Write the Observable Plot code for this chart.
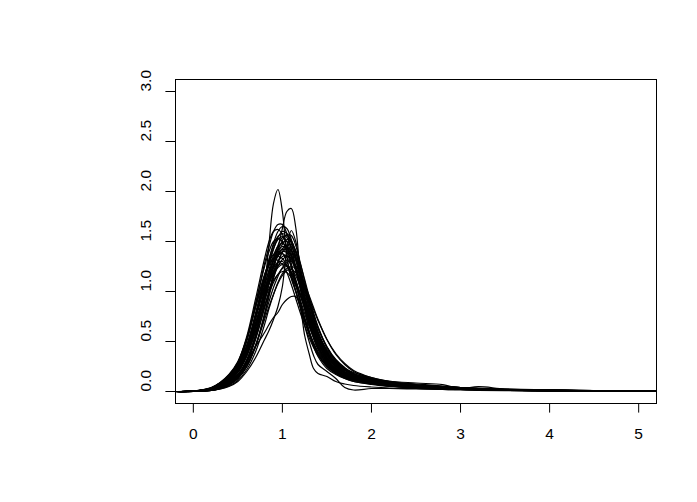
<!DOCTYPE html>
<html><head><meta charset="utf-8">
<script src="https://cdn.jsdelivr.net/npm/d3@7"></script>
<script src="https://cdn.jsdelivr.net/npm/@observablehq/plot@0.6"></script>
<style>body{margin:0;background:#fff}</style>
</head><body><div id="chart"></div>
<script>
// Shared x grid of the density curves
const xGrid = [-0.2, 0, 0.2, 0.3, 0.4, 0.5, 0.6, 0.7, 0.8, 0.85, 0.9, 0.95, 1.0, 1.05, 1.1, 1.15, 1.2, 1.25, 1.3, 1.35, 1.4, 1.5, 1.6, 1.7, 1.8, 2.0, 2.2, 2.5, 2.8, 3.0, 3.2, 3.5, 4.0, 4.5, 5.0, 5.3];

// Density curves (y values at xGrid)
const c01 = [0, .003, .022, .058, .116, .20, .38, .67, 1.00, 1.16, 1.30, 1.41, 1.45, 1.435, 1.36, 1.23, 1.07, .9, .74, .61, .49, .33, .23, .17, .14, .10, .07, .05, .036, .029, .023, .016, .01, .006, .004, .003];
const c02 = [0, .004, .03, .07, .14, .24, .45, .77, 1.13, 1.29, 1.43, 1.52, 1.55, 1.50, 1.38, 1.22, 1.04, .86, .69, .56, .45, .30, .21, .16, .12, .085, .06, .045, .03, .025, .02, .014, .009, .006, .004, .003];
const c03 = [0, .002, .016, .045, .09, .16, .30, .54, .84, 1.0, 1.14, 1.25, 1.32, 1.35, 1.33, 1.24, 1.10, .95, .80, .66, .54, .37, .26, .19, .15, .11, .08, .055, .04, .03, .025, .017, .011, .007, .005, .003];
const c04 = [0, .003, .03, .075, .15, .27, .52, .88, 1.28, 1.45, 1.60, 1.67, 1.67, 1.58, 1.43, 1.24, 1.03, .84, .67, .53, .42, .28, .20, .15, .12, .085, .06, .04, .03, .024, .019, .013, .008, .005, .003, .002];
const c05 = [0, .003, .025, .06, .12, .21, .37, .60, .86, .98, 1.09, 1.17, 1.23, 1.25, 1.23, 1.16, 1.05, .93, .81, .69, .58, .41, .30, .22, .17, .12, .09, .06, .045, .035, .028, .02, .012, .008, .005, .003];
const c06 = [0, .002, .02, .055, .11, .20, .38, .66, 1.00, 1.17, 1.32, 1.43, 1.49, 1.50, 1.45, 1.35, 1.21, 1.06, .91, .77, .64, .45, .32, .24, .18, .13, .095, .065, .05, .04, .03, .02, .012, .008, .005, .003];
const c07 = [0, .004, .035, .08, .15, .28, .52, .85, 1.16, 1.29, 1.37, 1.40, 1.38, 1.30, 1.17, 1.01, .85, .70, .57, .46, .37, .25, .18, .13, .10, .075, .055, .04, .03, .024, .018, .012, .008, .005, .003, .002];
const c08 = [0, .001, .012, .032, .07, .13, .25, .46, .75, .90, 1.04, 1.15, 1.24, 1.29, 1.30, 1.26, 1.17, 1.04, .90, .76, .63, .44, .31, .23, .17, .12, .085, .06, .045, .035, .027, .018, .011, .007, .004, .003];
const c09 = [0, .003, .024, .064, .13, .22, .42, .74, 1.10, 1.27, 1.42, 1.54, 1.60, 1.58, 1.48, 1.32, 1.13, .94, .77, .62, .50, .34, .24, .18, .14, .10, .07, .05, .035, .028, .022, .015, .009, .006, .004, .002];
const c10 = [0, .005, .04, .085, .15, .25, .42, .66, .92, 1.03, 1.11, 1.17, 1.20, 1.19, 1.14, 1.06, .96, .85, .74, .63, .54, .39, .29, .22, .17, .12, .09, .065, .05, .04, .03, .02, .013, .008, .005, .003];
const c11 = [0, .004, .03, .07, .14, .24, .44, .75, 1.06, 1.20, 1.31, 1.37, 1.38, 1.34, 1.25, 1.12, .97, .82, .68, .56, .45, .31, .22, .16, .13, .09, .065, .045, .033, .026, .02, .014, .009, .006, .004, .002];
const c12 = [0, .002, .018, .045, .09, .17, .32, .57, .90, 1.08, 1.25, 1.38, 1.47, 1.52, 1.50, 1.40, 1.24, 1.06, .88, .72, .58, .39, .27, .20, .15, .11, .08, .055, .04, .032, .025, .017, .01, .007, .004, .002];
const c13 = [0, .004, .035, .085, .16, .29, .55, .93, 1.33, 1.50, 1.60, 1.62, 1.57, 1.45, 1.28, 1.09, .90, .73, .59, .47, .38, .26, .19, .14, .11, .08, .055, .04, .03, .023, .018, .012, .008, .005, .003, .002];
const c14 = [0, .005, .03, .075, .13, .25, .50, .85, 1.17, 1.28, 1.33, 1.31, 1.27, 1.19, 1.07, .93, .79, .66, .54, .44, .36, .25, .18, .14, .11, .08, .06, .04, .03, .024, .019, .013, .008, .005, .003, .002];
const c15 = [0, .001, .012, .03, .065, .13, .25, .46, .77, .95, 1.13, 1.28, 1.40, 1.46, 1.47, 1.41, 1.28, 1.12, .95, .79, .65, .44, .31, .23, .17, .12, .085, .06, .045, .035, .027, .018, .011, .007, .004, .002];
const c16 = [0, .004, .03, .07, .14, .24, .43, .69, .97, 1.10, 1.20, 1.26, 1.28, 1.26, 1.20, 1.10, .98, .86, .74, .63, .53, .38, .29, .23, .19, .14, .105, .085, .068, .03, .048, .026, .015, .008, .005, .003];
const c17 = [0, .003, .025, .06, .12, .21, .39, .67, .99, 1.14, 1.27, 1.37, 1.42, 1.41, 1.35, 1.24, 1.09, .93, .78, .64, .52, .35, .25, .19, .15, .11, .08, .055, .04, .032, .025, .017, .01, .006, .004, .002];
const c18 = [0, .002, .02, .05, .10, .19, .36, .64, .99, 1.17, 1.33, 1.46, 1.54, 1.56, 1.51, 1.39, 1.21, 1.02, .84, .68, .55, .37, .26, .19, .15, .11, .075, .05, .038, .03, .023, .016, .01, .006, .004, .002];
const c19 = [0, .001, .01, .025, .055, .11, .22, .40, .67, .83, .97, 1.09, 1.18, 1.23, 1.25, 1.23, 1.16, 1.07, .96, .84, .72, .52, .37, .27, .2, .13, .09, .06, .045, .035, .028, .019, .012, .007, .004, .002];
const c20 = [0, .003, .026, .065, .13, .23, .42, .72, 1.06, 1.22, 1.36, 1.45, 1.48, 1.45, 1.36, 1.21, 1.04, .87, .71, .58, .47, .32, .22, .17, .13, .095, .068, .048, .035, .028, .022, .015, .01, .006, .004, .003];
const c21 = [0, .003, .024, .06, .12, .21, .38, .64, .94, 1.08, 1.20, 1.30, 1.35, 1.36, 1.31, 1.21, 1.07, .92, .77, .64, .52, .36, .26, .19, .15, .11, .08, .055, .04, .032, .025, .017, .011, .007, .004, .003];
const c22 = [0, .003, .028, .07, .14, .25, .46, .79, 1.15, 1.32, 1.46, 1.55, 1.58, 1.54, 1.42, 1.25, 1.06, .87, .70, .56, .45, .30, .21, .16, .12, .09, .063, .045, .033, .026, .02, .014, .009, .006, .004, .002];
const c23 = [0, .002, .015, .04, .08, .15, .29, .52, .84, 1.00, 1.16, 1.30, 1.39, 1.43, 1.41, 1.33, 1.19, 1.03, .87, .72, .59, .40, .28, .21, .16, .115, .08, .057, .042, .033, .026, .018, .011, .007, .004, .002];
const c24 = [0, .004, .033, .078, .15, .26, .46, .75, 1.03, 1.15, 1.24, 1.29, 1.30, 1.26, 1.18, 1.06, .92, .78, .65, .54, .44, .31, .22, .17, .13, .095, .068, .048, .035, .028, .021, .014, .009, .006, .004, .002];
const c25 = [0, .003, .025, .065, .13, .23, .43, .75, 1.13, 1.32, 1.48, 1.60, 1.65, 1.63, 1.52, 1.35, 1.14, .94, .76, .61, .49, .33, .23, .17, .13, .095, .067, .047, .034, .027, .021, .014, .009, .006, .004, .002];
const c26 = [0, .002, .016, .04, .08, .15, .27, .46, .72, .85, .97, 1.08, 1.16, 1.21, 1.22, 1.19, 1.12, 1.03, .93, .82, .71, .52, .38, .28, .21, .14, .10, .07, .05, .04, .03, .02, .013, .008, .005, .003];
const c27 = [0, .004, .035, .085, .165, .29, .53, .88, 1.25, 1.40, 1.50, 1.53, 1.50, 1.40, 1.25, 1.08, .90, .74, .60, .48, .39, .27, .19, .14, .11, .08, .057, .04, .03, .024, .019, .013, .008, .005, .003, .002];
const c28 = [0, .003, .025, .062, .12, .21, .39, .67, .98, 1.12, 1.25, 1.35, 1.40, 1.39, 1.33, 1.22, 1.08, .94, .80, .68, .57, .42, .31, .23, .18, .13, .10, .075, .055, .04, .035, .025, .016, .01, .006, .004];
const c29 = [0, .002, .02, .052, .105, .19, .35, .61, .94, 1.10, 1.25, 1.37, 1.43, 1.45, 1.41, 1.31, 1.16, .99, .83, .68, .55, .37, .26, .19, .15, .11, .077, .053, .04, .031, .024, .016, .01, .006, .004, .002];
const c30 = [0, .004, .032, .075, .14, .24, .42, .68, .96, 1.08, 1.18, 1.24, 1.27, 1.25, 1.19, 1.09, .97, .84, .71, .59, .49, .34, .25, .19, .15, .11, .08, .056, .04, .032, .025, .017, .011, .007, .004, .003];
const c31 = [0, .002, .016, .042, .085, .16, .31, .56, .90, 1.08, 1.26, 1.41, 1.51, 1.57, 1.56, 1.46, 1.29, 1.10, .91, .74, .60, .40, .28, .21, .16, .115, .08, .055, .04, .032, .025, .017, .01, .006, .004, .002];
const c32 = [0, .005, .038, .09, .17, .30, .53, .85, 1.15, 1.26, 1.33, 1.35, 1.33, 1.26, 1.14, 1.00, .86, .72, .60, .49, .40, .28, .20, .15, .12, .085, .062, .044, .032, .026, .02, .013, .008, .005, .003, .002];
const cA = [0, .002, .01, .03, .07, .14, .28, .56, 1.05, 1.48, 1.88, 2.02, 1.80, 1.36, 1.13, 1.00, .85, .66, .50, .36, .27, .20, .13, .04, .015, .03, .03, .025, .02, .015, .012, .008, .005, .003, .002, .001];
const cB = [0, .002, .01, .03, .065, .13, .25, .45, .78, .98, 1.20, 1.43, 1.63, 1.80, 1.83, 1.64, 1.18, .85, .60, .45, .35, .23, .17, .13, .10, .07, .05, .035, .025, .02, .016, .011, .007, .004, .003, .002];
const cC = [0, .001, .01, .025, .05, .10, .20, .34, .52, .61, .72, .85, 1.05, 1.42, 1.61, 1.50, 1.25, .95, .72, .55, .43, .29, .21, .16, .12, .085, .06, .045, .035, .028, .022, .015, .009, .005, .003, .002];
const cD = [0, .003, .02, .05, .10, .17, .30, .45, .59, .67, .74, .79, .87, .92, .95, .95, .84, .56, .38, .23, .18, .15, .10, .075, .06, .045, .035, .03, .02, .02, .018, .012, .008, .005, .003, .002];

const curves = [c01, c02, c03, c04, c05, c06, c07, c08, c09, c10, c11, c12, c13, c14, c15, c16,
  c17, c18, c19, c20, c21, c22, c23, c24, c25, c26, c27, c28, c29, c30, c31, c32, cA, cB, cC, cD];

const xTicks = [0, 1, 2, 3, 4, 5];
const yTicks = [0, 0.5, 1, 1.5, 2, 2.5, 3];
const yTickLabels = ["0.0", "0.5", "1.0", "1.5", "2.0", "2.5", "3.0"];

const rows = curves.flatMap((ys, k) => ys.map((y, i) => ({id: k, x: xGrid[i], y})));

const chart = Plot.plot({
  width: 697,
  height: 502,
  marginLeft: 175,
  marginRight: 41,
  marginTop: 79,
  marginBottom: 99,
  x: {domain: [-0.2, 5.2]},
  y: {domain: [-0.12, 3.12]},
  style: {background: "white", color: "black", fontFamily: "'Liberation Sans', Arial, Helvetica, sans-serif", fontSize: "15.5px"},
  marks: [
    Plot.line(rows, {x: "x", y: "y", z: "id", stroke: "black", strokeWidth: 1.2, curve: "catmull-rom", clip: true}),
    Plot.frame({stroke: "black"}),
    Plot.axisX({ticks: xTicks, tickSize: 9.6, tickPadding: 15, tickFormat: d => String(d), fontSize: 15.5, label: null}),
    Plot.axisY({ticks: yTicks, tickSize: 9.6, tickFormat: () => "", label: null}),
    Plot.text(yTicks, {y: d => d, text: (d, i) => yTickLabels[i], frameAnchor: "left", dx: -29, rotate: -90, fontSize: 15.5})
  ]
});
document.getElementById("chart").appendChild(chart);
</script>
</body></html>
